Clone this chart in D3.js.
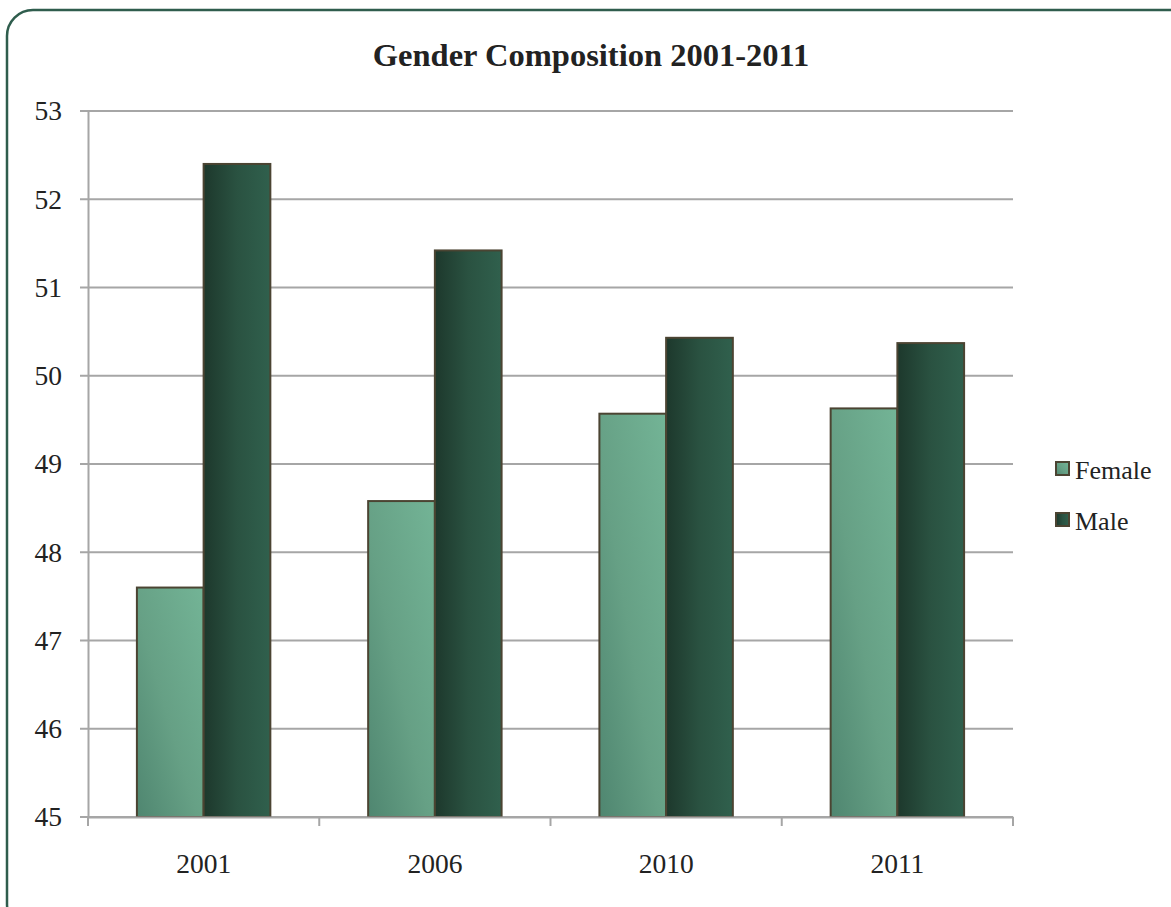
<!DOCTYPE html>
<html><head><meta charset="utf-8">
<script src="https://cdn.jsdelivr.net/npm/d3@7/dist/d3.min.js"></script>
<style>body{margin:0;background:#fff;} svg{display:block;} svg text{font-family:'Liberation Serif','Times New Roman',serif !important;}</style>
</head><body>
<script>
const categories = ["2001", "2006", "2010", "2011"];
const seriesNames = ["Female", "Male"];
const female = [47.6, 48.58, 49.57, 49.63];
const male = [52.4, 51.42, 50.43, 50.37];
const yTicks = [45, 46, 47, 48, 49, 50, 51, 52, 53];
const title = "Gender Composition 2001-2011";

const W = 1171, H = 907;
const svg = d3.select("body").append("svg").attr("width", W).attr("height", H);
const defs = svg.append("defs");
const gF = defs.append("linearGradient").attr("id", "gF").attr("x1", "0").attr("y1", "1").attr("x2", "1").attr("y2", "0");
gF.append("stop").attr("offset", "0").attr("stop-color", "#4f8670");
gF.append("stop").attr("offset", "0.45").attr("stop-color", "#66a085");
gF.append("stop").attr("offset", "1").attr("stop-color", "#73b496");
const gM = defs.append("linearGradient").attr("id", "gM").attr("x1", "0").attr("y1", "0").attr("x2", "1").attr("y2", "0");
gM.append("stop").attr("offset", "0").attr("stop-color", "#1d382c");
gM.append("stop").attr("offset", "0.5").attr("stop-color", "#2a5241");
gM.append("stop").attr("offset", "1").attr("stop-color", "#30604d");
const fills = ["url(#gF)", "url(#gM)"];

// border
svg.append("rect").attr("x", 7).attr("y", 10).attr("width", 1190).attr("height", 920)
  .attr("rx", 26).attr("ry", 26).attr("fill", "#fff").attr("stroke", "#2f5d4d").attr("stroke-width", 2.5);

const pLeft = 88, pRight = 1013, pTop = 111, pBottom = 817;
const y = d3.scaleLinear().domain([45, 53]).range([pBottom, pTop]);
const x = d3.scaleBand().domain(categories).range([pLeft, pRight]).paddingInner(0).paddingOuter(0);
const x1 = d3.scaleBand().domain(seriesNames).range([0, x.bandwidth()]).paddingInner(0).paddingOuter(0.733);

// gridlines
svg.append("g").selectAll("line").data(yTicks).join("line")
  .attr("x1", pLeft - 8).attr("x2", pRight).attr("y1", d => y(d)).attr("y2", d => y(d))
  .attr("stroke", "#a6a6a6").attr("stroke-width", 2);

// y axis
const yAxis = svg.append("g").attr("transform", `translate(${pLeft},0)`)
  .call(d3.axisLeft(y).tickValues(yTicks).tickSize(0).tickPadding(26).tickFormat(d3.format("d")));
yAxis.select(".domain").attr("stroke", "#a6a6a6").attr("stroke-width", 2);
yAxis.selectAll("text").attr("font-size", 27.5).attr("fill", "#222");

// bars
const data = categories.map((c, i) => ({ c, vals: [female[i], male[i]] }));
const grp = svg.append("g").selectAll("g").data(data).join("g").attr("transform", d => `translate(${x(d.c)},0)`);
grp.selectAll("rect").data(d => d.vals.map((v, j) => ({ v, s: seriesNames[j], j }))).join("rect")
  .attr("x", d => x1(d.s)).attr("width", x1.bandwidth())
  .attr("y", d => y(d.v)).attr("height", d => y(45) - y(d.v))
  .attr("fill", d => fills[d.j]).attr("stroke", "#4b4432").attr("stroke-width", 2);

// x axis
const xAxis = svg.append("g").attr("transform", `translate(0,${pBottom})`)
  .call(d3.axisBottom(x).tickSize(0).tickPadding(36));
xAxis.select(".domain").attr("stroke", "#a6a6a6").attr("stroke-width", 2);
xAxis.selectAll("text").attr("font-size", 27.5).attr("fill", "#222");
const bounds = categories.map(c => x(c)).concat([pRight]);
svg.append("g").selectAll("line").data(bounds).join("line")
  .attr("x1", d => d).attr("x2", d => d).attr("y1", pBottom).attr("y2", pBottom + 9)
  .attr("stroke", "#a6a6a6").attr("stroke-width", 2);

// title
svg.append("text").attr("x", 591).attr("y", 66).attr("text-anchor", "middle")
  .attr("font-weight", "bold").attr("font-size", 32.5)
  .attr("fill", "#222").text(title);

// legend
const lg = svg.append("g").selectAll("g").data(seriesNames).join("g")
  .attr("transform", (d, i) => `translate(1056,${462 + i * 51})`);
lg.append("rect").attr("width", 13).attr("height", 13).attr("fill", (d, i) => fills[i])
  .attr("stroke", "#4b4432").attr("stroke-width", 2);
lg.append("text").attr("x", 19).attr("y", 17)
  .attr("font-size", 26).attr("fill", "#222").text(d => d);
</script>
</body></html>
